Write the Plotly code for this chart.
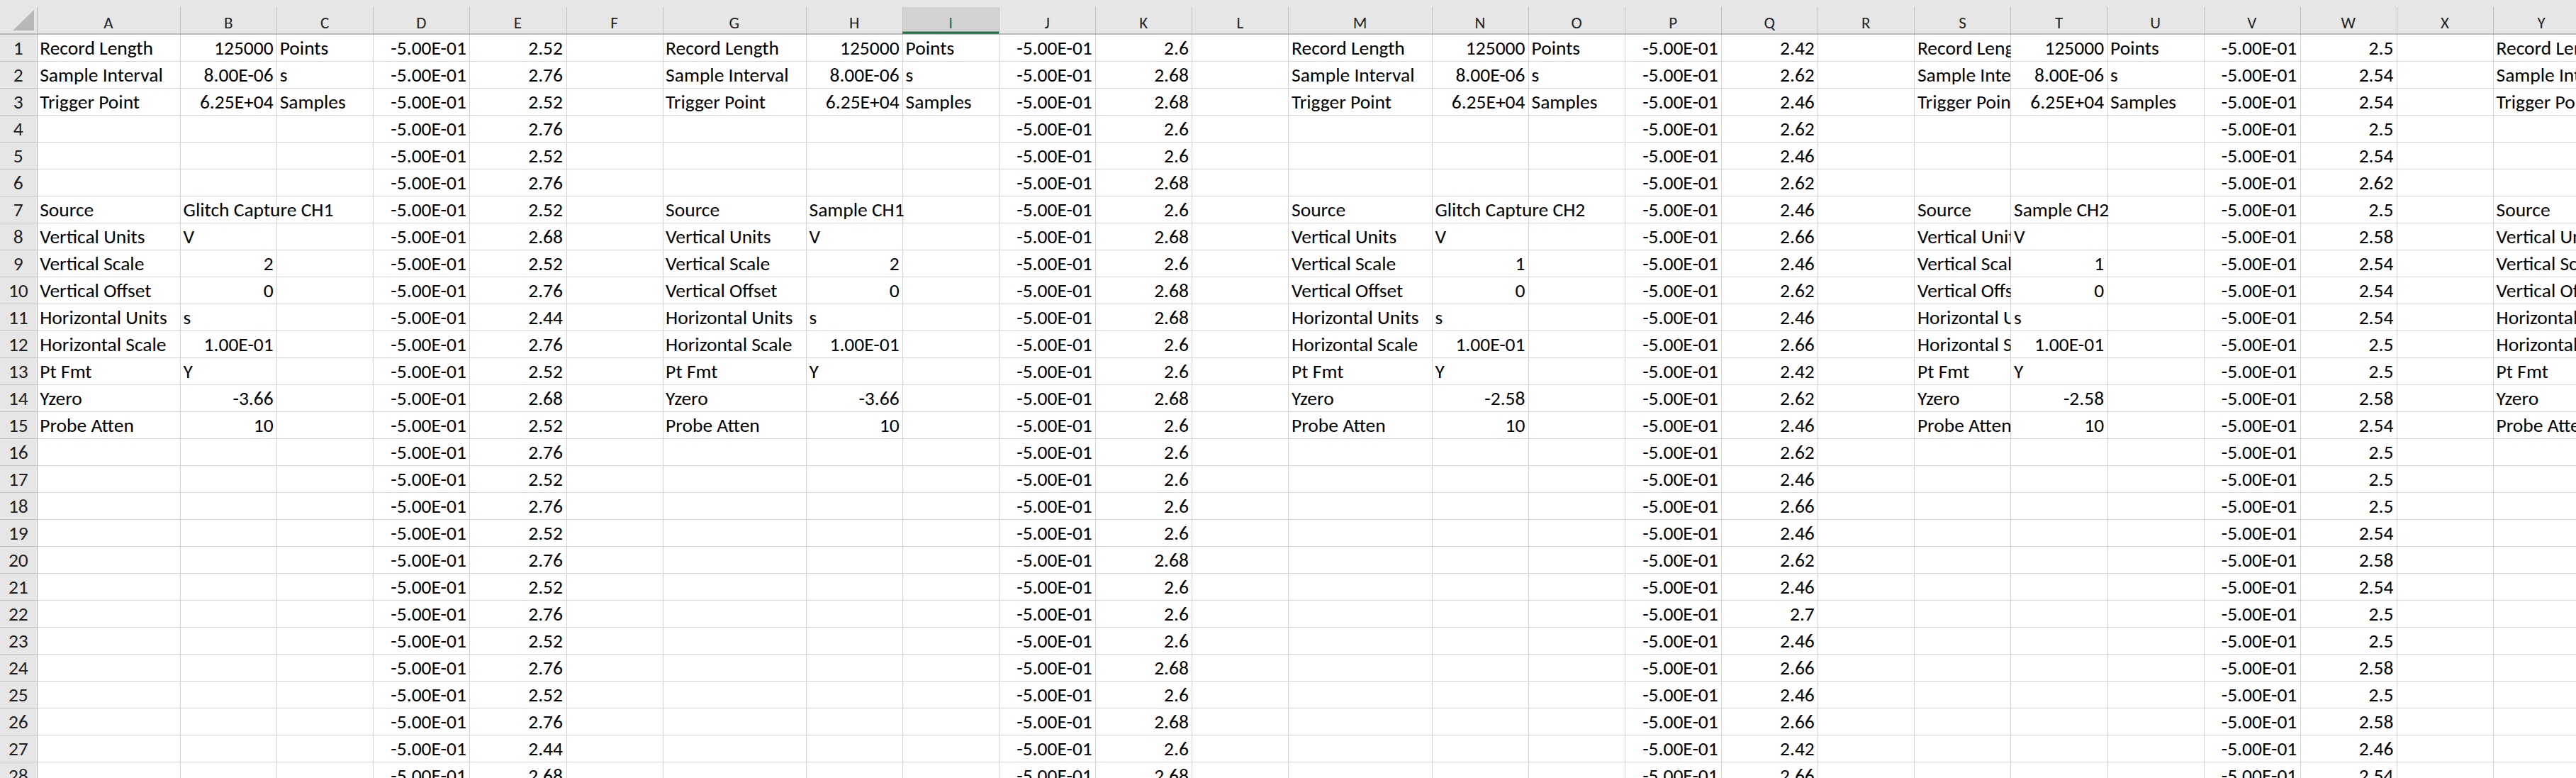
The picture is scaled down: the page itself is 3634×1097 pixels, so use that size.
import plotly.graph_objects as go

# ---------------- values ----------------
col_letters = ["A", "B", "C", "D", "E", "F", "G", "H", "I", "J", "K", "L",
               "M", "N", "O", "P", "Q", "R", "S", "T", "U", "V", "W", "X", "Y"]
row_numbers = [1, 2, 3, 4, 5, 6, 7, 8, 9, 10, 11, 12, 13, 14,
               15, 16, 17, 18, 19, 20, 21, 22, 23, 24, 25, 26, 27, 28]

meta_labels = ["Record Length", "Sample Interval", "Trigger Point", "", "", "",
               "Source", "Vertical Units", "Vertical Scale", "Vertical Offset",
               "Horizontal Units", "Horizontal Scale", "Pt Fmt", "Yzero", "Probe Atten"]
# how excel shows each numeric meta value
meta_fmt = ["{:g}", "{:.2E}", "{:.2E}", "", "", "", "", "", "{:g}", "{:g}",
            "", "{:.2E}", "", "{:g}", "{:g}"]
meta_units = ["Points", "s", "Samples"]

ch1_glitch_meta = [125000, 8.00e-06, 6.25e+04, None, None, None, "Glitch Capture CH1",
                   "V", 2, 0, "s", 1.00e-01, "Y", -3.66, 10]
ch1_sample_meta = [125000, 8.00e-06, 6.25e+04, None, None, None, "Sample CH1",
                   "V", 2, 0, "s", 1.00e-01, "Y", -3.66, 10]
ch2_glitch_meta = [125000, 8.00e-06, 6.25e+04, None, None, None, "Glitch Capture CH2",
                   "V", 1, 0, "s", 1.00e-01, "Y", -2.58, 10]
ch2_sample_meta = [125000, 8.00e-06, 6.25e+04, None, None, None, "Sample CH2",
                   "V", 1, 0, "s", 1.00e-01, "Y", -2.58, 10]

time_s = [-0.5, -0.5, -0.5, -0.5, -0.5, -0.5, -0.5, -0.5, -0.5, -0.5, -0.5, -0.5, -0.5, -0.5,
          -0.5, -0.5, -0.5, -0.5, -0.5, -0.5, -0.5, -0.5, -0.5, -0.5, -0.5, -0.5, -0.5, -0.5]

volts_ch1_glitch = [2.52, 2.76, 2.52, 2.76, 2.52, 2.76, 2.52, 2.68, 2.52, 2.76, 2.44, 2.76, 2.52, 2.68,
                    2.52, 2.76, 2.52, 2.76, 2.52, 2.76, 2.52, 2.76, 2.52, 2.76, 2.52, 2.76, 2.44, 2.68]
volts_ch1_sample = [2.6, 2.68, 2.68, 2.6, 2.6, 2.68, 2.6, 2.68, 2.6, 2.68, 2.68, 2.6, 2.6, 2.68,
                    2.6, 2.6, 2.6, 2.6, 2.6, 2.68, 2.6, 2.6, 2.6, 2.68, 2.6, 2.68, 2.6, 2.68]
volts_ch2_glitch = [2.42, 2.62, 2.46, 2.62, 2.46, 2.62, 2.46, 2.66, 2.46, 2.62, 2.46, 2.66, 2.42, 2.62,
                    2.46, 2.62, 2.46, 2.66, 2.46, 2.62, 2.46, 2.7, 2.46, 2.66, 2.46, 2.66, 2.42, 2.66]
volts_ch2_sample = [2.5, 2.54, 2.54, 2.5, 2.54, 2.62, 2.5, 2.58, 2.54, 2.54, 2.54, 2.5, 2.5, 2.58,
                    2.54, 2.5, 2.5, 2.5, 2.54, 2.58, 2.54, 2.5, 2.5, 2.58, 2.5, 2.58, 2.46, 2.54]

groups = [
    (ch1_glitch_meta, volts_ch1_glitch),
    (ch1_sample_meta, volts_ch1_sample),
    (ch2_glitch_meta, volts_ch2_glitch),
    (ch2_sample_meta, volts_ch2_sample),
]

# ---------------- sheet geometry ----------------
W, H = 3634, 1097
ROW_HDR_W = 51.7
HDR_TOP, HDR_BOT = 10, 48
ROW_H = 38.0
WIDE, NARROW = 202.4, 136.1
PAD = 4.5

FONT = "Calibri, Carlito, Lato, sans-serif"
BODY_SIZE = 27.5
HDR_SIZE = 23
TEXT_DY = 29.3 - 0.25 * BODY_SIZE     # put the baseline where excel has it
HDR_Y = 39.5 - 0.25 * HDR_SIZE

col_widths = []
for g in range(5):
    first = WIDE if g < 3 else NARROW
    col_widths += [first, NARROW, NARROW, NARROW, NARROW, NARROW]
col_widths = col_widths[:len(col_letters)]

x_edges = [ROW_HDR_W]
for w in col_widths:
    x_edges.append(x_edges[-1] + w)


def row_y(r):
    return HDR_BOT + ROW_H * (r - 1) + TEXT_DY


def text_trace(xs, ys, texts, pos, xaxis="x", color="#000000", size=BODY_SIZE):
    return go.Scatter(
        x=xs, y=ys, text=texts, mode="text", textposition=pos,
        textfont=dict(family=FONT, size=size, color=color),
        xaxis=xaxis, yaxis="y", cliponaxis=True,
        hoverinfo="skip", showlegend=False,
    )


traces = []
label_axes = {}

for g, (meta, volts) in enumerate(groups):
    c0 = 6 * g
    # label column gets its own clipped axis so long labels get cut like in excel
    ax_name = "x%d" % (g + 2)
    label_axes[g + 2] = (x_edges[c0], x_edges[c0 + 1])
    lx, ly, lt = [], [], []
    for i, lab in enumerate(meta_labels):
        if lab:
            lx.append(x_edges[c0] + PAD)
            ly.append(row_y(i + 1))
            lt.append(lab)
    traces.append(text_trace(lx, ly, lt, "middle right", xaxis=ax_name))

    # value column: text left, numbers right
    tx, ty, tt, nx, ny, nt = [], [], [], [], [], []
    for i, v in enumerate(meta):
        if v is None:
            continue
        if isinstance(v, str):
            tx.append(x_edges[c0 + 1] + PAD)
            ty.append(row_y(i + 1))
            tt.append(v)
        else:
            nx.append(x_edges[c0 + 2] - PAD)
            ny.append(row_y(i + 1))
            nt.append(meta_fmt[i].format(v))
    traces.append(text_trace(tx, ty, tt, "middle right"))
    traces.append(text_trace(nx, ny, nt, "middle left"))

    # units
    traces.append(text_trace([x_edges[c0 + 2] + PAD] * len(meta_units),
                             [row_y(i + 1) for i in range(len(meta_units))],
                             meta_units, "middle right"))

    # time and voltage columns
    traces.append(text_trace([x_edges[c0 + 4] - PAD] * len(time_s),
                             [row_y(r) for r in row_numbers[:len(time_s)]],
                             ["{:.2E}".format(t) for t in time_s], "middle left"))
    traces.append(text_trace([x_edges[c0 + 5] - PAD] * len(volts),
                             [row_y(r) for r in row_numbers[:len(volts)]],
                             ["{:g}".format(v) for v in volts], "middle left"))

# fifth block, only its label column is on screen
c0 = 24
label_axes[6] = (x_edges[c0], W)
lx, ly, lt = [], [], []
for i, lab in enumerate(meta_labels):
    if lab:
        lx.append(x_edges[c0] + PAD)
        ly.append(row_y(i + 1))
        lt.append(lab)
traces.append(text_trace(lx, ly, lt, "middle right", xaxis="x6"))

# column letters and row numbers
SEL_COL = "I"
hdr_colors = ["#1e6b41" if c == SEL_COL else "#1f1f1f" for c in col_letters]
traces.append(text_trace([(x_edges[i] + x_edges[i + 1]) / 2 for i in range(len(col_letters))],
                         [HDR_Y] * len(col_letters), col_letters, "middle center",
                         color=hdr_colors, size=HDR_SIZE))
traces.append(text_trace([ROW_HDR_W / 2] * len(row_numbers),
                         [row_y(r) for r in row_numbers],
                         [str(r) for r in row_numbers], "middle center", color="#1f1f1f"))

# ---------------- grid, headers ----------------
shapes = []


def px(v):
    return round(v) + 0.5


def rect(x0, y0, x1, y1, fill):
    shapes.append(dict(type="rect", xref="x", yref="y", x0=x0, y0=y0, x1=x1, y1=y1,
                       fillcolor=fill, line=dict(width=0), layer="below"))


def line(x0, y0, x1, y1, color, width=1):
    shapes.append(dict(type="line", xref="x", yref="y", x0=x0, y0=y0, x1=x1, y1=y1,
                       line=dict(color=color, width=width), layer="below"))


rect(0, 0, W, HDR_BOT, "#e6e6e6")
rect(0, HDR_BOT, ROW_HDR_W, H, "#e6e6e6")
sel = col_letters.index(SEL_COL)
rect(x_edges[sel], HDR_TOP, x_edges[sel + 1], HDR_BOT, "#d2d2d2")

for e in x_edges[1:]:
    line(px(e), HDR_BOT, px(e), H, "#d4d4d4")
    line(px(e), HDR_TOP, px(e), HDR_BOT, "#c2c2c2")
for r in row_numbers:
    yb = HDR_BOT + ROW_H * r
    line(ROW_HDR_W, px(yb), W, px(yb), "#d4d4d4")
    line(0, px(yb), ROW_HDR_W, px(yb), "#c2c2c2")

line(px(ROW_HDR_W), HDR_TOP, px(ROW_HDR_W), H, "#b4b4b4")
line(0, HDR_BOT, W, HDR_BOT, "#a8a8a8", 1.5)
line(x_edges[sel], HDR_BOT - 1.8, x_edges[sel + 1], HDR_BOT - 1.8, "#217346", 3.2)

# select-all triangle in the corner
shapes.append(dict(type="path", xref="x", yref="y",
                   path="M 18 43 L 48 43 L 48 14 Z",
                   fillcolor="#b8b8b8", line=dict(width=0), layer="below"))

layout = dict(
    width=W, height=H,
    margin=dict(l=0, r=0, t=0, b=0),
    paper_bgcolor="white", plot_bgcolor="rgba(0,0,0,0)",
    showlegend=False, hovermode=False,
    shapes=shapes,
    xaxis=dict(range=[0, W], domain=[0, 1], visible=False, fixedrange=True),
    yaxis=dict(range=[H, 0], domain=[0, 1], visible=False, fixedrange=True),
)
for k, (a, b) in label_axes.items():
    layout["xaxis%d" % k] = dict(range=[a, b], domain=[max(a / W, 0), min(b / W, 1)],
                                 anchor="y", visible=False, fixedrange=True)

fig = go.Figure(data=traces, layout=layout)

fig.write_html("out.html", config={"displayModeBar": False},
               post_script="document.body.style.margin='0';document.body.style.overflow='hidden';")
